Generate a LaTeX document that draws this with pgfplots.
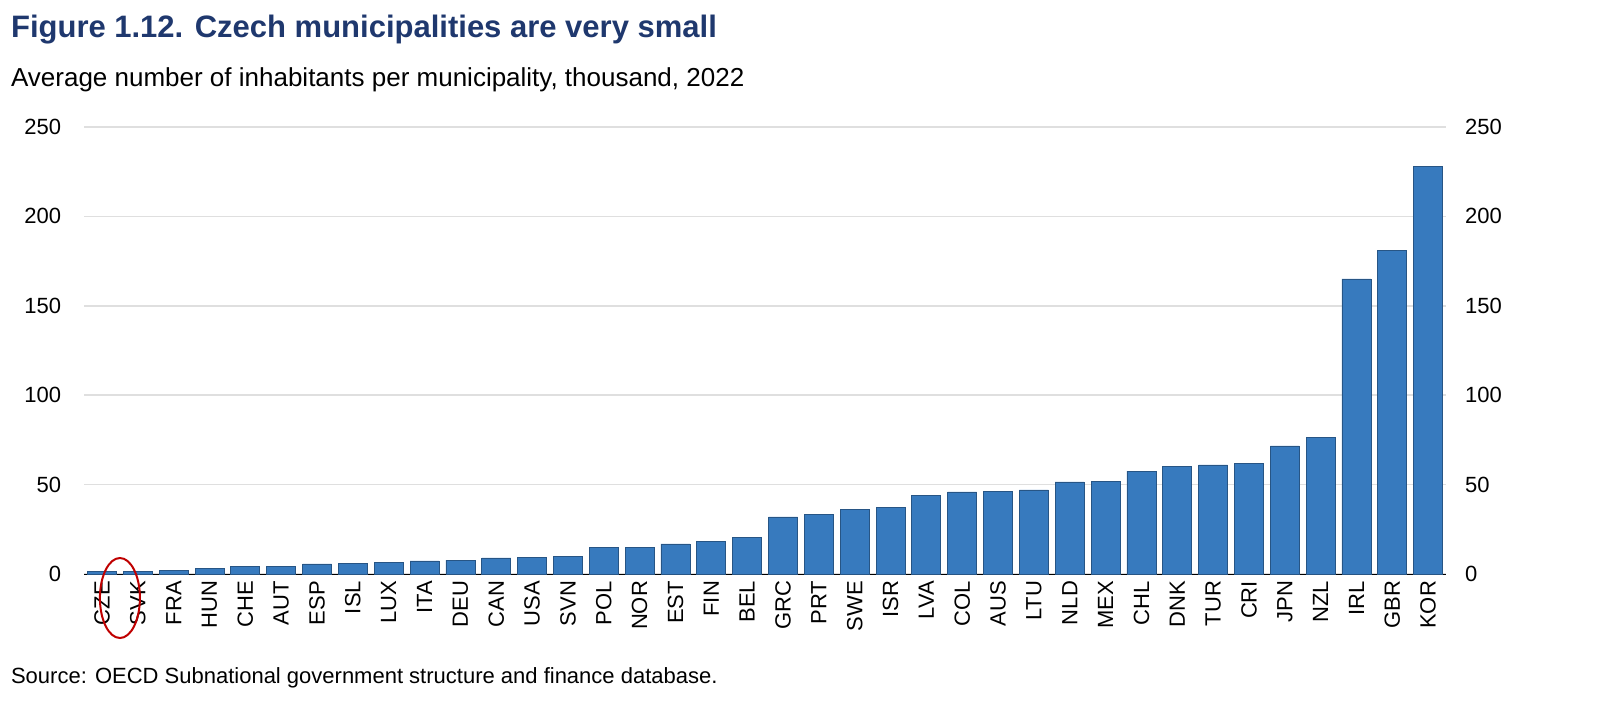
\documentclass[border=0pt]{standalone}
\usepackage{pgfplots}
\pgfplotsset{compat=1.18}
\usepackage{fontspec}
\setmainfont{Liberation Sans}
\definecolor{barblue}{RGB}{55,122,190}
\definecolor{navy}{RGB}{31,56,110}
\begin{document}
\begin{tikzpicture}
\useasboundingbox (-51pt,-72pt) rectangle (754pt,287pt);
\begin{axis}[at={(0,0)},anchor=origin,scale only axis,width=681pt,height=223.5pt,clip=false,
 xmin=-0.5,xmax=37.5,ymin=0,ymax=250,ytick={0,50,...,250},
 axis y line*=left, axis x line*=bottom, y axis line style={draw=none},
 ymajorgrids, grid style={gray!25,line width=0.8pt},
 major tick length=0pt, ybar, bar width=14.5pt,
 xtick=data, xticklabels={CZE,SVK,FRA,HUN,CHE,AUT,ESP,ISL,LUX,ITA,DEU,CAN,USA,SVN,POL,NOR,EST,FIN,BEL,GRC,PRT,SWE,ISR,LVA,COL,AUS,LTU,NLD,MEX,CHL,DNK,TUR,CRI,JPN,NZL,IRL,GBR,KOR},
 xticklabel style={rotate=90,anchor=east,font=\fontsize{11}{13}\selectfont},
 yticklabel style={font=\fontsize{11}{13}\selectfont,xshift=-8pt},
 /pgf/number format/assume math mode=true]
\addplot[fill=barblue,draw=barblue!70!black] coordinates {
(0,1.2)(1,1.5)(2,1.8)(3,3)(4,4)(5,4.2)(6,5.6)(7,5.7)(8,6.7)(9,7.3)(10,7.8)(11,9)(12,9.1)(13,9.6)
(14,15)(15,15.1)(16,16.8)(17,18)(18,20.2)(19,31.9)(20,33.5)(21,36)(22,37.2)(23,43.8)(24,45.9)(25,46)(26,47)
(27,51.5)(28,52)(29,57.6)(30,60.4)(31,61)(32,62)(33,71.6)(34,76.6)(35,165)(36,181)(37,228)};
\end{axis}
\draw[red!75!black,line width=1pt] (8.96pt,-12pt) ellipse [x radius=10pt,y radius=20pt];
\begin{axis}[at={(0,0)},anchor=origin,scale only axis,width=681pt,height=223.5pt,
 xmin=-0.5,xmax=37.5,ymin=0,ymax=250,ytick={0,50,...,250},
 axis y line*=right, axis x line=none, y axis line style={draw=none},
 major tick length=0pt,
 yticklabel style={font=\fontsize{11}{13}\selectfont,xshift=6pt},
 /pgf/number format/assume math mode=true]
\addplot[draw=none] coordinates {(0,0)};
\end{axis}
\node[anchor=west,font=\fontsize{15.5}{18}\selectfont\bfseries,text=navy] at (-49pt,272pt) {Figure 1.12. Czech municipalities are very small};
\node[anchor=west,font=\fontsize{13}{15}\selectfont] at (-49pt,247pt) {Average number of inhabitants per municipality, thousand, 2022};
\node[anchor=west,font=\fontsize{11}{13}\selectfont] at (-49pt,-52pt) {Source: OECD Subnational government structure and finance database.};
\end{tikzpicture}
\end{document}
